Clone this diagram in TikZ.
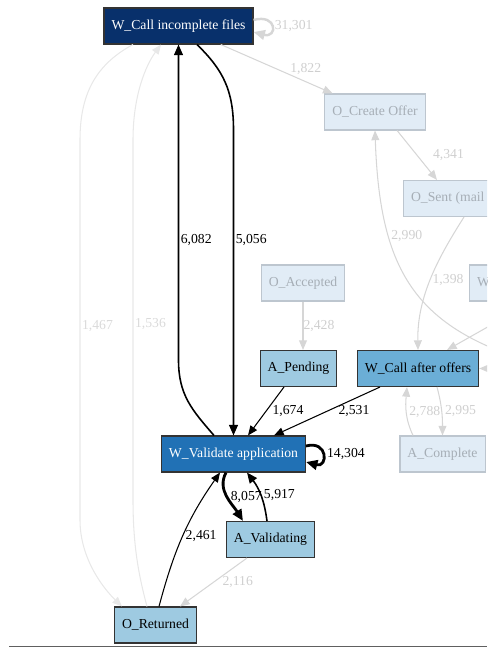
\documentclass[tikz,border=0pt]{standalone}
\usepackage{fontspec}
\setmainfont{Liberation Serif}
\usetikzlibrary{arrows.meta,calc}
\definecolor{navyfill}{HTML}{08306B}
\definecolor{deepfill}{HTML}{2171B5}
\definecolor{midfill}{HTML}{6BAED6}
\definecolor{palefill}{HTML}{9ECAE1}
\definecolor{ghostfill}{HTML}{E1ECF6}
\definecolor{ghostline}{HTML}{BDC6CF}
\definecolor{ghosttext}{HTML}{A6AEB6}
\definecolor{ghostedge}{HTML}{D6D6D6}
\definecolor{ghostpaleedge}{HTML}{E8E8E8}
\definecolor{ghostlabel}{HTML}{CFCFCF}
\definecolor{ghostpalelabel}{HTML}{DADADA}
\definecolor{rulecol}{HTML}{606060}

\begin{document}
\begin{tikzpicture}[scale=0.2]
\tikzstyle{every node}+=[inner sep=0pt, font=\fontsize{7.8}{9}\selectfont]
\tikzstyle{box}=[rectangle, line width=0.6pt, minimum height=0.72cm, inner xsep=0.15cm]
\tikzstyle{navybox}=[box, draw=black!80, fill=navyfill, text=white]
\tikzstyle{deepbox}=[box, draw=black!80, fill=deepfill, text=white]
\tikzstyle{midbox}=[box, draw=black!80, fill=midfill, text=black]
\tikzstyle{palebox}=[box, draw=black!80, fill=palefill, text=black]
\tikzstyle{ghostbox}=[box, draw=ghostline, fill=ghostfill, text=ghosttext]
\tikzstyle{lab}=[text=black]
\tikzstyle{ghostlab}=[text=ghostlabel]
\tikzstyle{ghostpalelab}=[text=ghostpalelabel]
\tikzstyle{flow}=[black, line width=0.6pt, -{Triangle[length=5.5pt,width=4.5pt]}]
\tikzstyle{flowmid}=[black, line width=0.9pt, -{Triangle[length=6pt,width=5pt]}]
\tikzstyle{flowheavy}=[black, line width=1.6pt, -{Triangle[length=6.5pt,width=5.5pt]}]
\tikzstyle{ghost}=[ghostedge, line width=0.6pt, -{Triangle[length=5.5pt,width=4.5pt]}]
\tikzstyle{ghostheavy}=[ghostedge, line width=1.4pt, -{Triangle[length=6.5pt,width=5.5pt]}]
\tikzstyle{ghostpale}=[ghostpaleedge, line width=0.6pt, -{Triangle[length=5.5pt,width=4.5pt]}]
\useasboundingbox (0,0) rectangle (48.7,-64.8);
\clip (0,0) rectangle (48.7,-64.8);
\node[navybox] (wci) at (17.85,-2.6) {W\_Call incomplete files};
\node[ghostbox] (oco) at (37.5,-11.2) {O\_Create Offer};
\node[ghostbox, anchor=west] (osm) at (40.3,-19.85) {O\_Sent (mail and online)};
\node[ghostbox, anchor=west] (wco) at (46.9,-28.3) {W\_Complete application};
\node[ghostbox] (oac) at (30.3,-28.3) {O\_Accepted};
\node[palebox] (ape) at (29.85,-36.85) {A\_Pending};
\node[midbox] (wcao) at (41.8,-36.85) {W\_Call after offers};
\node[deepbox] (wva) at (23.35,-45.4) {W\_Validate application};
\node[ghostbox] (aco) at (44.25,-45.4) {A\_Complete};
\node[palebox] (ava) at (27.05,-53.95) {A\_Validating};
\node[palebox] (ore) at (15.55,-62.5) {O\_Returned};
\coordinate (far1) at (56,-37);
\coordinate (far2) at (52.3,-30.7);
\coordinate (far3) at (50.5,-33.5);
\draw[ghostheavy] ($(wci.east)+(0,0.6)$) .. controls +(15:2.5) and +(-15:2.5) .. node[ghostlab, midway, anchor=west, xshift=0.04cm] {31,301} ($(wci.east)+(0,-0.6)$);
\draw[ghost] (wci) -- node[ghostlab, midway, anchor=west, xshift=0.26cm] {1,822} (oco);
\draw[ghost] (oco.-40) -- node[ghostlab, midway, anchor=west, xshift=0.31cm] {4,341} ($(osm.north west)+(3.4,0)$);
\draw[ghost] ($(osm.south west)+(6.1,0)$) .. controls (44,-25.5) and (41.7,-29.5) .. node[ghostlab, pos=0.52, anchor=west, xshift=0.03cm] {1,398} (wcao.north);
\draw[ghost] (far1) .. controls (42,-33.5) and (38,-28) .. node[ghostlab, pos=0.72, anchor=west, xshift=0.04cm] {2,990} (oco.south);
\draw[ghost] (far2) -- ($(wcao.north)+(2.9,0)$);
\draw[ghost] (far3) to[out=-110,in=0] (wcao.east);
\draw[ghost] ($(wcao.south)+(1.9,0)$) to[out=-75,in=90] node[ghostlab, midway, anchor=west, xshift=0.06cm] {2,995} (aco.north);
\draw[ghost] ($(aco.north)+(-2.95,0)$) to[out=115,in=-95] node[ghostlab, midway, anchor=west, xshift=0.05cm] {2,788} ($(wcao.south)+(-1.1,0)$);
\draw[ghost] (oac.south) -- node[ghostlab, midway, anchor=west] {2,428} (oac.south |- ape.north);
\draw[ghost] ($(ava.south)+(-2.35,0)$) -- node[ghostlab, midway, anchor=west, xshift=0.17cm] {2,116} ($(ore.north)+(2.45,0)$);
\draw[ghostpale] ($(wci.south)+(-4.55,0)$) .. controls (9.5,-6.5) and (8,-9.5) .. (8,-14) -- node[ghostpalelab, pos=0.49, anchor=west, xshift=0.03cm] {1,467} (8,-52) .. controls (8,-56) and (10.5,-59) .. ($(ore.north)+(-3.35,0)$);
\draw[ghostpale] ($(ore.north)+(-0.85,0)$) .. controls (14,-58) and (13.3,-55) .. (13.3,-50) -- node[ghostpalelab, pos=0.49, anchor=west, xshift=0.03cm] {1,536} (13.3,-14) .. controls (13.3,-9.5) and (14.6,-6.5) .. ($(wci.south)+(-1.75,0)$);
\draw[flowmid] ($(wci.south)+(1.85,0)$) .. controls (22.3,-7) and (23.35,-9) .. (23.35,-13) -- node[lab, pos=0.36, anchor=west, xshift=0.03cm] {5,056} (wva.north);
\draw[flowmid] ($(wva.north)+(-1.95,0)$) .. controls (19.2,-41) and (17.85,-39.5) .. (17.85,-36) -- node[lab, pos=0.38, anchor=west, xshift=0.03cm] {6,082} (wci.south);
\draw[flow] ($(ape.south)+(-1.45,0)$) -- node[lab, midway, anchor=west, xshift=0.12cm] {1,674} ($(wva.north)+(1.45,0)$);
\draw[flow] ($(wcao.south)+(-3.8,0)$) -- node[lab, midway, anchor=west, xshift=0.22cm] {2,531} ($(wva.north)+(4.05,0)$);
\draw[flowheavy] ($(wva.east)+(0,0.8)$) .. controls +(15:2.3) and +(-15:2.3) .. node[lab, midway, anchor=west, xshift=0.06cm] {14,304} ($(wva.east)+(0,-0.8)$);
\draw[flowheavy] ($(wva.south)+(-0.75,0)$) to[out=-118,in=122] node[lab, midway, anchor=west, xshift=0.05cm] {8,057} ($(ava.north)+(-2.75,0)$);
\draw[flowmid] ($(ava.north)+(-0.35,0)$) to[bend right=15] node[lab, midway, anchor=west, xshift=0.05cm] {5,917} ($(wva.south)+(1.35,0)$);
\draw[flow] ($(ore.north)+(0.35,0)$) to[out=75,in=-125] node[lab, midway, anchor=west, xshift=0.05cm] {2,461} ($(wva.south)+(-1.35,0)$);
\draw[rulecol, line width=0.7pt] (0.9,-64.67) -- (48.7,-64.67);
\end{tikzpicture}
\end{document}
